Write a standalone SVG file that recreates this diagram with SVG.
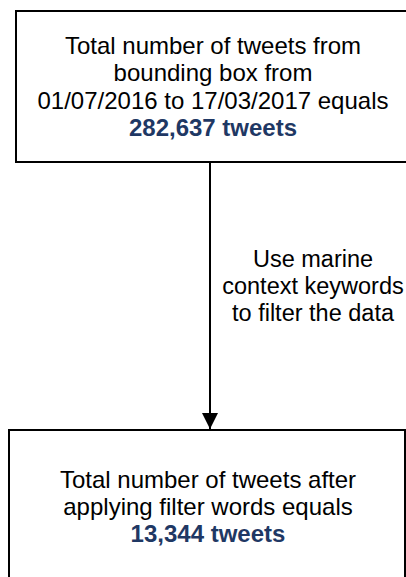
<svg xmlns="http://www.w3.org/2000/svg" width="406" height="577" viewBox="0 0 406 577">
  <style>
    .box { fill: #ffffff; stroke: #000000; stroke-width: 2; }
    .txt { font-family: "Liberation Sans", Arial, sans-serif; font-size: 24px; fill: #000000; text-anchor: middle; }
    .lbl { font-size: 23.5px; }
    .num { font-weight: bold; fill: #1F3864; }
    .edge { stroke: #000000; stroke-width: 2; fill: none; }
  </style>
  <defs>
    <marker id="arrow" markerWidth="16" markerHeight="16" refX="16" refY="8" orient="auto" markerUnits="userSpaceOnUse">
      <path d="M0,0 L16,8 L0,16 Z" fill="#000000"/>
    </marker>
  </defs>

  <g id="connectors">
    <line class="edge" x1="210" y1="162" x2="210" y2="429" marker-end="url(#arrow)"/>
    <text class="txt lbl" x="313" y="267">Use marine</text>
    <text class="txt lbl" x="313" y="294">context keywords</text>
    <text class="txt lbl" x="313" y="321">to filter the data</text>
  </g>

  <g id="node-source">
    <rect class="box" x="16" y="11" width="396" height="151"/>
    <text class="txt" x="213" y="54">Total number of tweets from</text>
    <text class="txt" x="213" y="81">bounding box from</text>
    <text class="txt" x="213" y="108.5">01/07/2016 to 17/03/2017 equals</text>
    <text class="txt num" x="213" y="136">282,637 tweets</text>
  </g>

  <g id="node-filtered">
    <rect class="box" x="9" y="430" width="396" height="160"/>
    <text class="txt" x="208" y="488">Total number of tweets after</text>
    <text class="txt" x="208" y="515">applying filter words equals</text>
    <text class="txt num" x="208" y="542">13,344 tweets</text>
  </g>
</svg>
